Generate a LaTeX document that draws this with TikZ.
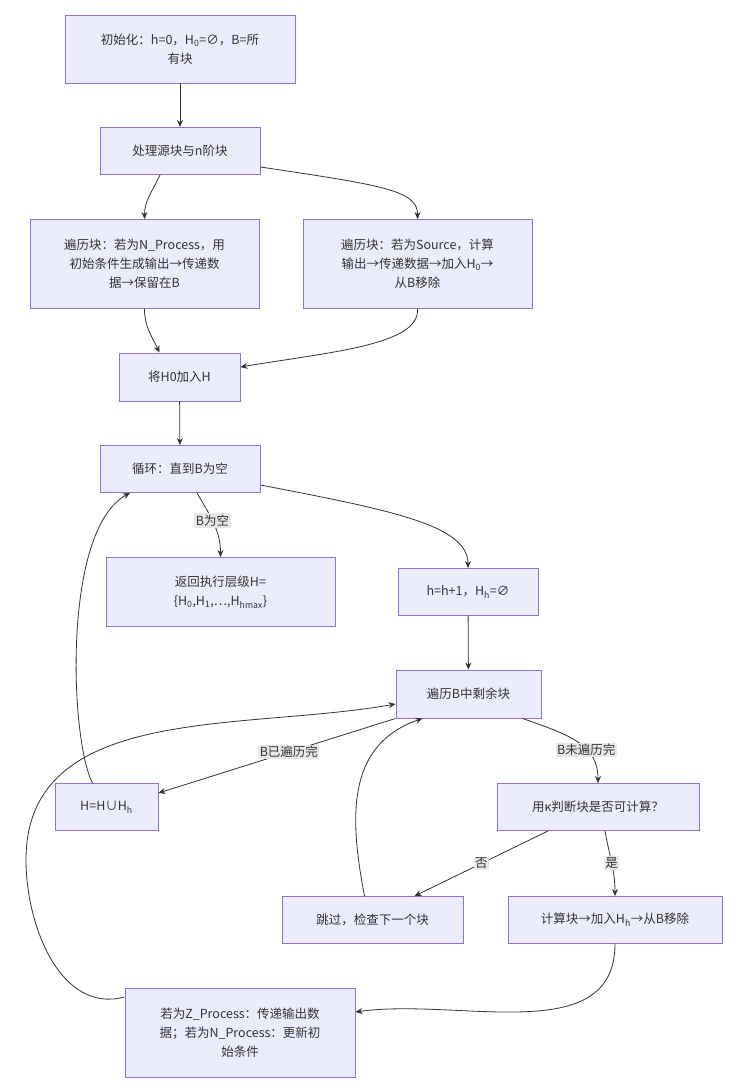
\documentclass[tikz,border=0pt]{standalone}
\usepackage{fontspec}
\setmainfont{Noto Sans CJK SC}
\usetikzlibrary{arrows.meta,positioning}
\definecolor{boxfill}{HTML}{ECECFF}
\definecolor{boxline}{HTML}{9370DB}
\definecolor{ink}{HTML}{333333}
\definecolor{lblfill}{HTML}{E8E8E8}
\newcommand{\sub}[1]{\textsubscript{#1}}

\begin{document}
\begin{tikzpicture}[
    x=1pt, y=-1pt,
    font=\fontsize{12.5}{19}\selectfont, text=ink,
    blk/.style={rectangle, draw=boxline, fill=boxfill, line width=0.9pt, align=center, inner sep=2pt},
    flow/.style={-{Stealth[length=7pt,width=6pt]}, draw=ink, line width=0.8pt},
    elbl/.style={fill=lblfill, inner sep=1.5pt, font=\fontsize{12.5}{15}\selectfont}
]
    \useasboundingbox (0,0) rectangle (738,1090);
    \node[blk, minimum width=230pt, minimum height=68pt] (init) at (180,49) {初始化：h=0，H\sub{0}=∅，B=所\\有块};
    \node[blk, minimum width=160pt, minimum height=47pt] (proc) at (180,151) {处理源块与n阶块};
    \node[blk, minimum width=229pt, minimum height=89pt] (nproc) at (144.5,264) {遍历块：若为N\_Process，用\\初始条件生成输出→传递数\\据→保留在B};
    \node[blk, minimum width=229pt, minimum height=89pt] (src) at (417.5,264) {遍历块：若为Source，计算\\输出→传递数据→加入H\sub{0}→\\从B移除};
    \node[blk, minimum width=121pt, minimum height=48pt] (hzero) at (179.5,377) {将H0加入H};
    \node[blk, minimum width=160pt, minimum height=47pt] (loop) at (180,469) {循环：直到B为空};
    \node[blk, minimum width=229pt, minimum height=69pt] (ret) at (220.5,592) {返回执行层级H=\\\{H\sub{0},H\sub{1},…,H\sub{hmax}\}};
    \node[blk, minimum width=140pt, minimum height=47pt] (hinc) at (468,592) {h=h+1，H\sub{h}=∅};
    \node[blk, minimum width=145pt, minimum height=48pt] (trav) at (468.5,694) {遍历B中剩余块};
    \node[blk, minimum width=103pt, minimum height=47pt] (hunion) at (106.5,807) {H=H∪H\sub{h}};
    \node[blk, minimum width=202pt, minimum height=47pt] (judge) at (598,807) {用κ判断块是否可计算？};
    \node[blk, minimum width=181pt, minimum height=47pt] (skip) at (372.5,920) {跳过，检查下一个块};
    \node[blk, minimum width=214pt, minimum height=47pt] (comp) at (615,920) {计算块→加入H\sub{h}→从B移除};
    \node[blk, minimum width=230pt, minimum height=89pt] (upd) at (240,1033) {若为Z\_Process：传递输出数\\据；若为N\_Process：更新初\\始条件};

    \coordinate (backleft) at (26,860);

    \draw[flow] (init) -- (proc);
    \draw[flow] ([xshift=-20pt]proc.south) to[out=-115,in=90] (nproc.north);
    \draw[flow] ([yshift=-16pt]proc.east) .. controls (380,185) and (418,190) .. (src.north);
    \draw[flow] (nproc.south) to[out=-90,in=115] ([xshift=-20pt]hzero.north);
    \draw[flow] (src.south) .. controls (420,345) and (330,352) .. ([yshift=10pt]hzero.east);
    \draw[flow] (hzero) -- (loop);
    \draw[flow] ([xshift=17pt]loop.south) to[out=-60,in=90] node[elbl, pos=0.45] {B为空} (ret.north);
    \draw[flow] ([yshift=-16pt]loop.east) .. controls (390,510) and (468,525) .. (hinc.north);
    \draw[flow] (hinc) -- (trav);
    \draw[flow] (trav.south west) -- node[elbl, pos=0.45] {B已遍历完} ([yshift=14pt]hunion.east);
    \draw[flow] ([xshift=54pt]trav.south) .. controls (570,735) and (598,745) .. node[elbl, pos=0.62] {B未遍历完} (judge.north);
    \draw[flow] ([xshift=-50pt]judge.south) -- node[elbl, pos=0.5] {否} ([xshift=42pt]skip.north);
    \draw[flow] ([xshift=7pt]judge.south) to[out=-80,in=90] node[elbl, pos=0.5] {是} (comp.north);
    \draw[flow] ([xshift=-8pt]skip.north) .. controls (350,820) and (345,745) .. ([xshift=-46pt]trav.south);
    \draw[flow] (comp.south) to[out=-90,in=8] ([yshift=21pt]upd.east);
    \draw[flow] ([yshift=36pt]upd.west) to[out=195,in=-90] (backleft) to[out=90,in=190] ([yshift=-10pt]trav.west);
    \draw[flow] ([xshift=-14pt]hunion.north) .. controls (70,740) and (62,530) .. ([xshift=-50pt]loop.south);
\end{tikzpicture}
\end{document}
